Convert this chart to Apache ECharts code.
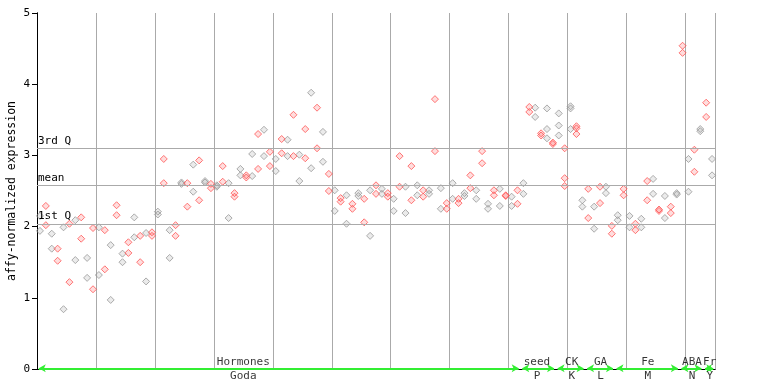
<!DOCTYPE html>
<html><head><meta charset="utf-8">
<script src="https://cdn.jsdelivr.net/npm/echarts@6/dist/echarts.min.js"></script>
<style>html,body{margin:0;padding:0;background:#fff}#c{width:768px;height:384px}</style>
</head><body><div id="c"></div>
<script>
// replicate values per sample (115 samples)
const repA = [2.15,2.29,1.90,1.69,1.99,2.04,2.09,2.13,1.56,1.98,
  1.99,1.95,1.74,2.30,1.62,1.78,2.13,1.87,1.91,1.92,
  2.21,2.95,1.95,2.02,2.62,2.61,2.87,2.93,2.64,2.60,
  2.58,2.85,2.61,2.47,2.81,2.72,3.02,3.30,3.36,3.05,
  2.95,3.23,3.22,3.57,3.01,3.37,3.88,3.67,3.33,2.74,
  2.51,2.40,2.44,2.32,2.47,2.39,2.51,2.58,2.53,2.47,
  2.39,2.99,2.56,2.85,2.58,2.51,2.51,3.79,2.54,2.33,
  2.61,2.39,2.47,2.72,2.51,3.06,2.32,2.51,2.53,2.44,
  2.42,2.51,2.61,3.68,3.67,3.31,3.66,3.18,3.59,3.10,
  3.69,3.41,2.37,2.53,2.28,2.56,2.56,2.01,2.16,2.53,
  2.15,2.04,2.11,2.64,2.67,2.24,2.43,2.28,2.47,4.54,
  2.95,3.08,3.37,3.74,2.95];
const repB = [1.94,2.02,1.69,1.52,0.84,1.22,1.53,1.83,1.28,1.12,
  1.32,1.40,0.97,2.16,1.50,1.63,1.85,1.50,1.23,1.87,
  2.17,2.61,1.56,1.87,2.60,2.28,2.49,2.37,2.62,2.54,
  2.56,2.63,2.12,2.42,2.72,2.69,2.71,2.81,2.99,2.85,
  2.78,3.03,2.99,2.99,2.64,2.96,2.82,3.10,2.91,2.50,
  2.22,2.35,2.04,2.25,2.43,2.06,1.87,2.46,2.46,2.42,
  2.22,2.56,2.19,2.37,2.44,2.42,2.46,3.06,2.25,2.25,
  2.39,2.33,2.43,2.54,2.39,2.89,2.25,2.44,2.29,2.43,
  2.29,2.32,2.46,3.61,3.54,3.28,3.37,3.16,3.42,2.68,
  3.66,3.38,2.28,2.12,1.97,2.33,2.47,1.90,2.09,2.44,
  1.99,1.95,1.99,2.37,2.46,2.22,2.12,2.19,2.45,4.44,
  2.49,2.77,3.34,3.54,2.72];
// third replicate, only present in a few samples: [sampleIndex, value]
const repC = [[86,3.24],[88,3.28],[89,2.57],[90,3.37],[91,3.30]];

const quartileValues = [3.10, 2.58, 2.04];
const quartileNames = ['3rd Q', 'mean', '1st Q'];

const groupNames = ['Hormones','seed','CK','GA','Fe','ABA','Fr'];
const groupCodes = ['Goda','P','K','L','M','N','Y'];
const groupStart = [0,82,88,93,98,109,113];
const groupEnd   = [82,88,93,98,109,113,115];
const groupLabelAt = [35,84.8,90.7,95.6,103.6,111.1,114.1];

const yMin = 0, yMax = 5, yStep = 1;
const nSamples = repA.length;

const MONO = '"DejaVu Sans Mono", monospace';
const RED = '#ff5555', GREY = '#999999';

const redPts = [], greyPts = [];
function add(i, v) {
  if (v == null) return;
  (i % 2 === 0 ? greyPts : redPts).push([i + 0.5, v]);
}
for (let i = 0; i < nSamples; i++) { add(i, repA[i]); add(i, repB[i]); }
repC.forEach(([i, v]) => add(i, v));

function ptStyle(c) {
  return { color: c === RED ? 'rgba(255,85,85,0.25)' : 'rgba(153,153,153,0.25)', borderColor: c, borderWidth: 1 };
}

const chart = echarts.init(document.getElementById('c'), null, { renderer: 'canvas' });
chart.setOption({
  animation: false,
  backgroundColor: '#fff',
  grid: { left: 37, right: 53, top: 13, bottom: 15, containLabel: false, outerBoundsMode: 'none' },
  xAxis: [{
    type: 'value', min: 0, max: nSamples, interval: 10,
    axisLine: { show: true, onZero: false, lineStyle: { color: '#000', width: 1 } },
    axisTick: { show: false }, axisLabel: { show: false },
    splitLine: { show: true, lineStyle: { color: '#aaaaaa', width: 1 } }
  }, {
    type: 'value', position: 'top', min: 0, max: nSamples,
    axisLine: { show: true, lineStyle: { color: '#000', width: 1 } },
    axisTick: { show: false }, axisLabel: { show: false }, splitLine: { show: false }
  }],
  yAxis: [{
    type: 'value', min: yMin, max: yMax, interval: yStep,
    name: 'affy-normalized expression', nameLocation: 'middle', nameGap: 19, nameMoveOverlap: false,
    nameTextStyle: { fontFamily: MONO, fontSize: 11.5, color: '#000' },
    axisLine: { show: true, lineStyle: { color: '#000', width: 1 } },
    axisTick: { show: true, length: 5, lineStyle: { color: '#000' } },
    axisLabel: { fontFamily: MONO, fontSize: 11, color: '#000', margin: 7 },
    splitLine: { show: false }
  }, {
    type: 'value', position: 'right', min: yMin, max: yMax, interval: yStep,
    axisLine: { show: true, lineStyle: { color: '#000', width: 1 } },
    axisTick: { show: true, inside: true, length: 5, lineStyle: { color: '#000' } },
    axisLabel: { show: false }, splitLine: { show: false }
  }],
  series: [
    {
      type: 'line', data: [], silent: true,
      markLine: {
        silent: true, symbol: 'none', animation: false,
        lineStyle: { color: '#aaaaaa', width: 1, type: 'solid' },
        label: { show: true, position: 'insideStartTop', distance: [1, 2],
          fontFamily: MONO, fontSize: 11, color: '#000', formatter: p => p.name },
        data: quartileValues.map((v, k) => ({ yAxis: v, name: quartileNames[k] }))
      }
    },
    {
      type: 'scatter', name: 'grey', data: greyPts, symbol: 'diamond', symbolSize: 7,
      itemStyle: ptStyle(GREY), silent: true
    },
    {
      type: 'scatter', name: 'red', data: redPts, symbol: 'diamond', symbolSize: 7,
      itemStyle: ptStyle(RED), silent: true
    },
    {
      type: 'line', data: [], silent: true, z: 5,
      markLine: {
        silent: true, animation: false, symbol: ['arrow', 'arrow'], symbolSize: [6, 7],
        lineStyle: { color: '#33ee33', width: 2, type: 'solid' },
        label: { show: false },
        data: groupStart.map((s, k) => [{ coord: [s + 0.3, 0.01] }, { coord: [groupEnd[k] - 0.3, 0.01] }])
      }
    },
    {
      type: 'scatter', data: groupLabelAt.map((x, k) => [x, 0, groupNames[k]]),
      symbolSize: 0, clip: false, silent: true, z: 6,
      label: { show: true, position: 'top', distance: 1, fontFamily: MONO, fontSize: 11, color: '#000',
        formatter: p => p.data[2] }
    },
    {
      type: 'scatter', data: groupLabelAt.map((x, k) => [x, 0, groupCodes[k]]),
      symbolSize: 0, clip: false, silent: true, z: 6,
      label: { show: true, position: 'bottom', distance: 2, fontFamily: MONO, fontSize: 11, color: '#000',
        formatter: p => p.data[2] }
    }
  ]
});
</script></body></html>
